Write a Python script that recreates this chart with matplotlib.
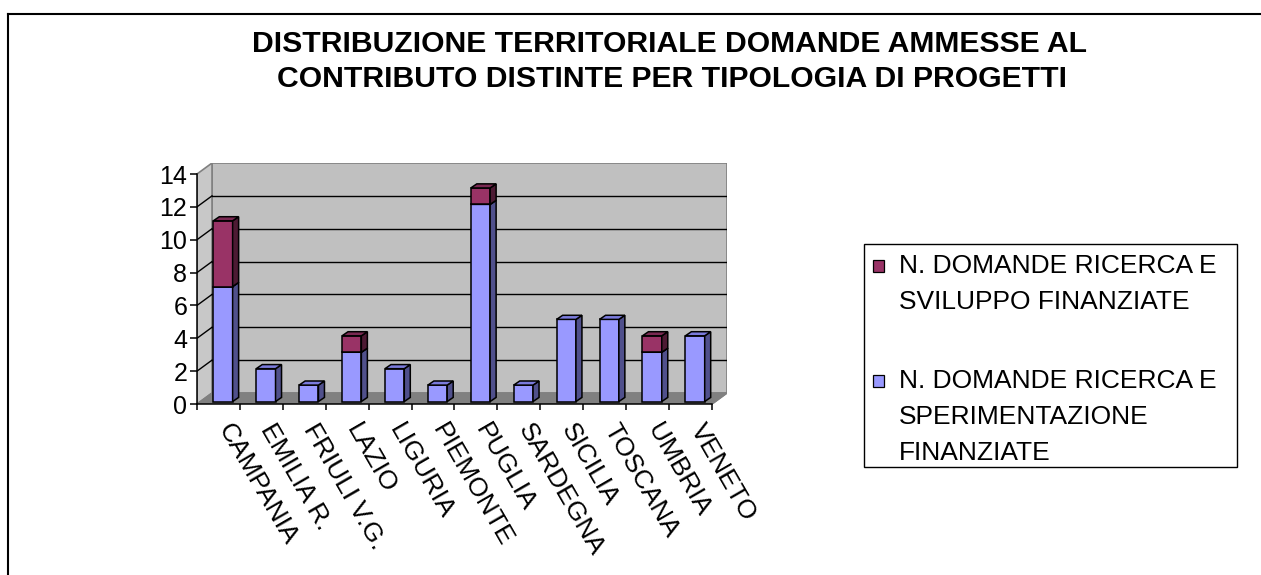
import numpy as np
import matplotlib
matplotlib.use("Agg")
import matplotlib.pyplot as plt
from matplotlib.patches import Polygon, Rectangle
from matplotlib.lines import Line2D

plt.rcParams['font.family'] = ['Liberation Sans', 'DejaVu Sans']

regions = ["CAMPANIA", "EMILIA R.", "FRIULI V.G.", "LAZIO", "LIGURIA", "PIEMONTE",
           "PUGLIA", "SARDEGNA", "SICILIA", "TOSCANA", "UMBRIA", "VENETO"]
sperimentazione = [7, 2, 1, 3, 2, 1, 12, 1, 5, 5, 3, 4]
sviluppo = [4, 0, 0, 1, 0, 0, 1, 0, 0, 0, 1, 0]
series_labels = ["N. DOMANDE RICERCA E\nSVILUPPO FINANZIATE",
                 "N. DOMANDE RICERCA E\nSPERIMENTAZIONE\nFINANZIATE"]
yticks = [0, 2, 4, 6, 8, 10, 12, 14]

W, H = 1261, 575
fig = plt.figure(figsize=(W / 100, H / 100), dpi=100)

def fx(x):
    return x / W

def fy(y):
    return 1 - y / H

# depth of the 3d box (data units)
dx, dy = 0.35, 0.67
ymax = 14
n = len(regions)

ax = fig.add_axes([fx(197), fy(404), 530 / W, 241 / H])
ax.set_xlim(0, n + dx)
ax.set_ylim(0, ymax + dy)
ax.patch.set_visible(False)

# walls and floor
ax.add_patch(Polygon([(dx, dy), (n + dx, dy), (n + dx, ymax + dy), (dx, ymax + dy)],
                     closed=True, facecolor="#c0c0c0", edgecolor="#808080", lw=1.2, zorder=0))
ax.add_patch(Polygon([(0, 0), (dx, dy), (dx, ymax + dy), (0, ymax)],
                     closed=True, facecolor="#c8c8c8", edgecolor="#808080", lw=1.2, zorder=0))
ax.add_patch(Polygon([(0, 0), (n, 0), (n + dx, dy), (dx, dy)],
                     closed=True, facecolor="#808080", edgecolor="#808080", lw=1.0, zorder=0))
for t in yticks[1:-1]:
    ax.plot([dx, n + dx], [t + dy, t + dy], color="black", lw=1.0, zorder=1)
    ax.plot([0, dx], [t, t + dy], color="black", lw=1.0, zorder=1)

# bars (front faces + 3d sides)
x = np.arange(n)
bw = 0.45
x0 = x + 0.38
b0 = 0.15
bdx, bdy = 0.14, 0.25
spe = np.array(sperimentazione)
svi = np.array(sviluppo)

def draw_3d(bars, side, top):
    for r in bars:
        if r.get_height() <= 0:
            r.set_visible(False)
            continue
        a, b = r.get_x(), r.get_y()
        c, d = a + r.get_width(), b + r.get_height()
        ax.add_patch(Polygon([(c, b), (c + bdx, b + bdy), (c + bdx, d + bdy), (c, d)],
                             closed=True, facecolor=side, edgecolor="black", lw=1.1,
                             zorder=r.get_zorder()))
        ax.add_patch(Polygon([(a, d), (a + bdx, d + bdy), (c + bdx, d + bdy), (c, d)],
                             closed=True, facecolor=top, edgecolor="black", lw=1.1,
                             zorder=r.get_zorder()))

b1 = ax.bar(x0, spe, width=bw, bottom=b0, align="edge", color="#9999ff",
            edgecolor="black", lw=1.1, zorder=3)
draw_3d(b1, "#50508c", "#7b7bdc")
b2 = ax.bar(x0, svi, width=bw, bottom=b0 + spe, align="edge", color="#993366",
            edgecolor="black", lw=1.1, zorder=4)
draw_3d(b2, "#4d1a33", "#7a2952")

# axes
for s in ["top", "right"]:
    ax.spines[s].set_visible(False)
ax.spines["left"].set_bounds(0, ymax)
ax.spines["bottom"].set_bounds(0, n)
ax.spines["left"].set_linewidth(1.1)
ax.spines["bottom"].set_linewidth(1.1)
ax.plot([n, n + dx], [0, dy], color="#808080", lw=1.2, zorder=1)
ax.set_yticks(yticks)
ax.set_yticklabels([str(t) for t in yticks], fontsize=18)
ax.tick_params(axis="y", length=5, width=1.1, pad=2)
ax.set_xticks(np.arange(n + 1))
ax.set_xticklabels([])
ax.tick_params(axis="x", length=4.5, width=1.1)
for i, name in enumerate(regions):
    ax.text(i + 0.5 + 0.36, -0.97, name, rotation=-60, rotation_mode="anchor",
            ha="left", va="top", fontsize=19, clip_on=False)

# title
fig.text(fx(670), fy(52), "DISTRIBUZIONE TERRITORIALE DOMANDE AMMESSE AL",
         ha="center", va="baseline", fontsize=21.7, fontweight="bold")
fig.text(fx(672), fy(87), "CONTRIBUTO DISTINTE PER TIPOLOGIA DI PROGETTI",
         ha="center", va="baseline", fontsize=21.7, fontweight="bold")

# legend
fig.add_artist(Rectangle((fx(864), fy(467)), (1237 - 864) / W, (467 - 244) / H,
                         transform=fig.transFigure, facecolor="white",
                         edgecolor="black", lw=1.0))
leg_colors = ["#993366", "#9999ff"]
leg_base = [273, 388]
for col, lab, yb in zip(leg_colors, series_labels, leg_base):
    fig.add_artist(Rectangle((fx(873), fy(yb - 1)), 11 / W, 12 / H,
                             transform=fig.transFigure, facecolor=col,
                             edgecolor="black", lw=0.9))
    for k, line in enumerate(lab.split("\n")):
        fig.text(fx(899), fy(yb + 36 * k), line, ha="left", va="baseline",
                 fontsize=19)

# outer frame (top and left edges only visible)
fig.add_artist(Line2D([fx(8), 1], [fy(13.5), fy(13.5)], transform=fig.transFigure,
                      color="black", lw=1.5))
fig.add_artist(Line2D([fx(8), fx(8)], [0, fy(13.5)], transform=fig.transFigure,
                      color="black", lw=1.5))

fig.savefig("out.png", dpi=100)
